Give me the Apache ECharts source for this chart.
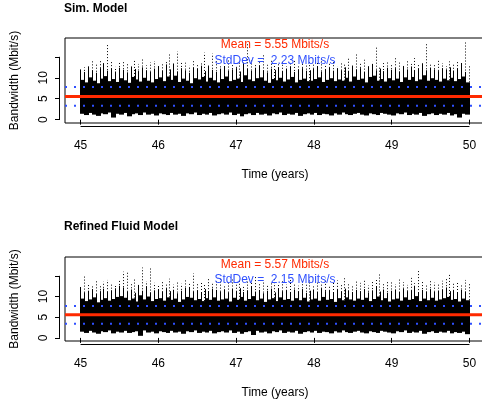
<!DOCTYPE html>
<html><head><meta charset="utf-8">
<script src="https://cdn.jsdelivr.net/npm/echarts@6.0.0/dist/echarts.min.js"></script>
<style>html,body{margin:0;padding:0;background:#fff}#c{width:482px;height:405px}</style>
</head><body><div id="c"></div>
<script>
// ---- data ----
const panelTitles = ['Sim. Model', 'Refined Fluid Model'];
const xTicks = [45, 46, 47, 48, 49, 50];
const yTicks = [0, 5, 10, 15];
const yTickLabels = [0, 5, 10];
const binStart = [45.00,45.05,45.10,45.15,45.20,45.25,45.30,45.35,45.40,45.45,
45.50,45.55,45.60,45.65,45.70,45.75,45.80,45.85,45.90,45.95,
46.00,46.05,46.10,46.15,46.20,46.25,46.30,46.35,46.40,46.45,
46.50,46.55,46.60,46.65,46.70,46.75,46.80,46.85,46.90,46.95,
47.00,47.05,47.10,47.15,47.20,47.25,47.30,47.35,47.40,47.45,
47.50,47.55,47.60,47.65,47.70,47.75,47.80,47.85,47.90,47.95,
48.00,48.05,48.10,48.15,48.20,48.25,48.30,48.35,48.40,48.45,
48.50,48.55,48.60,48.65,48.70,48.75,48.80,48.85,48.90,48.95,
49.00,49.05,49.10,49.15,49.20,49.25,49.30,49.35,49.40,49.45,
49.50,49.55,49.60,49.65,49.70,49.75,49.80,49.85,49.90,49.95];

// Sim. Model: per-bin lowest value, top of dense band, top of solid spikes, highest sparse point
const simLow = [1.4,1.1,1.6,1.2,0.9,1.5,1.3,1.7,0.5,1.4,
1.2,1.6,0.8,1.3,1.5,1.1,1.7,1.2,1.4,1.0,
1.5,1.3,1.1,1.6,1.2,1.4,0.9,1.5,1.3,1.7,
1.1,1.4,1.2,1.6,1.0,1.3,1.5,1.2,1.7,1.1,
1.4,0.8,1.3,1.5,1.1,1.6,1.2,1.4,1.0,1.5,
1.3,1.7,1.1,1.4,1.2,1.6,0.9,1.3,1.5,1.2,
1.6,1.1,1.4,1.3,1.0,1.5,1.2,1.7,1.3,1.1,
1.4,1.6,1.2,1.0,1.5,1.3,1.1,1.6,1.4,1.2,
1.0,1.5,1.3,1.7,1.1,1.4,1.2,1.6,0.9,1.3,
1.5,1.1,1.4,1.2,1.6,1.0,1.3,0.5,1.4,1.2];
const simTop = [9.5,8.9,10.1,9.3,8.7,9.8,10.4,9.2,9.7,9.0,
9.9,9.4,8.8,10.2,9.6,9.1,10.0,9.3,8.9,9.7,
10.1,9.2,10.3,9.5,10.5,9.0,9.8,9.3,8.7,9.9,
9.6,10.2,9.1,10.0,9.4,8.9,9.7,10.3,9.2,9.5,
9.8,9.0,10.6,9.6,9.2,9.9,10.1,9.3,8.8,9.7,
9.4,10.0,9.1,9.6,10.2,8.9,9.5,9.8,9.2,9.3,
9.7,10.1,9.0,9.5,9.9,9.2,9.6,9.3,10.0,9.1,
10.3,9.5,9.8,8.9,10.2,10.5,9.3,9.7,9.1,9.9,
9.4,9.8,9.0,10.1,9.5,10.2,9.2,9.6,10.6,9.3,
9.9,9.5,9.1,9.8,9.4,10.0,9.2,9.7,10.3,8.9];
const simSpike = [12.0,11.4,12.6,11.8,11.2,12.3,13.5,11.7,12.2,11.5,
12.4,11.9,11.3,12.7,12.1,11.6,12.5,11.8,11.4,12.2,
12.6,11.7,13.2,12.0,13.4,11.5,12.3,11.8,11.2,12.4,
12.1,12.9,11.6,12.8,11.9,11.4,12.2,12.8,11.7,12.0,
12.3,11.5,13.6,12.1,11.7,12.4,12.9,11.8,11.3,12.2,
11.9,12.5,11.6,12.1,12.7,11.4,12.0,12.3,11.7,11.8,
12.2,12.6,11.5,12.0,12.4,11.7,12.1,11.8,12.5,11.6,
12.8,12.0,12.3,11.4,12.7,13.3,11.8,12.2,11.6,12.4,
11.9,12.3,11.5,12.6,12.0,12.7,11.7,12.1,13.4,11.8,
12.4,12.0,11.6,12.3,11.9,12.5,11.7,12.2,13.5,11.4];
const simPeak = [12.5,13.2,14.0,13.5,14.3,13.0,17.9,13.8,12.6,13.9,
14.2,13.6,12.8,14.1,13.3,14.5,13.0,13.7,14.0,13.2,
13.5,14.2,15.9,13.4,16.3,14.0,13.6,12.9,14.2,13.4,
13.8,16.0,13.2,15.8,14.1,13.0,13.9,14.6,13.3,12.8,
14.0,13.6,18.3,14.2,13.4,13.7,15.5,13.1,14.5,12.9,
13.5,14.1,12.8,13.9,14.4,13.2,13.7,12.9,14.0,13.3,
13.8,14.6,13.0,13.5,14.2,12.8,13.9,13.4,14.8,13.1,
16.0,13.6,14.3,13.0,13.8,17.2,12.7,13.5,13.9,13.2,
14.8,14.0,12.9,14.2,13.3,14.7,13.1,13.8,18.0,13.4,
13.0,14.1,13.5,12.8,13.9,13.3,14.0,13.6,18.9,13.2];

// Refined Fluid Model
const fluidLow = [1.5,1.2,1.7,1.3,1.0,1.6,1.4,1.8,1.1,1.5,
1.3,1.7,1.2,1.4,1.6,0.5,1.8,1.3,1.5,1.1,
1.6,1.4,1.2,1.7,1.3,1.5,1.0,1.6,1.4,1.8,
1.2,1.5,1.3,1.7,1.1,1.4,1.6,1.3,1.8,1.2,
1.5,1.0,1.4,1.6,0.7,1.7,1.3,1.5,1.1,1.6,
1.4,1.8,1.2,1.5,1.3,1.7,1.0,1.4,1.6,1.3,
1.7,1.2,1.5,1.4,1.1,1.6,1.3,1.8,1.4,1.2,
1.5,1.7,1.3,1.1,1.6,1.4,1.2,1.7,1.5,1.3,
1.1,1.6,1.4,1.8,1.2,1.5,1.3,1.7,1.0,1.4,
1.6,1.2,1.5,1.3,1.7,1.1,1.4,1.2,1.5,0.9];
const fluidTop = [9.5,8.9,9.3,9.8,8.6,9.2,9.6,9.0,9.4,9.9,
10.1,9.7,9.1,9.5,8.8,10.3,9.3,10.0,8.9,9.4,
9.6,9.0,9.8,9.2,9.5,8.7,9.3,9.9,9.7,9.1,
9.4,8.9,9.6,9.2,9.8,9.0,9.3,9.5,8.8,9.7,
9.2,9.9,9.0,9.4,10.1,9.1,9.5,8.7,9.3,9.6,
8.9,9.8,9.2,9.4,9.0,9.6,9.1,9.7,8.8,9.3,
9.5,9.0,9.9,9.2,9.4,8.7,9.6,9.1,9.8,9.3,
9.0,9.5,9.2,9.7,8.9,9.4,10.0,9.1,9.6,8.8,
9.3,9.5,9.0,9.8,9.2,9.4,10.1,8.9,9.5,9.1,
9.7,9.0,9.3,9.6,9.9,9.2,9.4,8.8,9.5,9.1];
const fluidSpike = [12.3,11.0,11.4,11.8,10.6,11.3,11.9,11.1,11.5,12.0,
12.6,12.2,11.2,11.7,10.9,12.8,11.4,12.5,11.0,11.5,
11.8,11.1,12.0,11.3,11.6,10.8,11.4,12.1,12.3,11.2,
11.5,10.9,11.8,11.3,11.9,11.6,11.2,11.7,11.0,11.8,
11.3,12.0,11.1,11.5,12.3,11.2,11.6,10.8,11.4,11.9,
11.0,11.9,11.3,11.5,11.1,11.7,11.2,11.8,10.9,11.4,
11.6,11.1,12.0,11.3,11.5,10.9,11.7,11.2,11.9,11.4,
11.1,11.6,11.3,11.8,11.0,11.5,12.4,11.2,11.7,10.9,
11.4,11.6,11.1,11.9,11.3,11.5,12.6,11.0,11.6,11.2,
11.8,11.1,11.4,11.7,12.2,11.3,11.5,10.9,11.6,11.2];
const fluidPeak = [15.2,13.1,12.8,13.9,12.5,13.6,14.0,13.2,12.9,13.8,
16.0,15.8,13.4,14.1,13.0,17.0,13.7,16.8,13.3,12.8,
13.9,13.2,14.3,12.9,13.6,13.1,14.0,13.4,15.6,13.0,
13.5,12.8,14.2,13.3,13.7,14.4,12.9,13.6,14.1,13.2,
13.8,12.7,14.0,13.4,14.8,13.1,13.9,12.8,13.5,14.2,
13.0,13.7,12.9,14.1,13.3,12.6,13.8,13.2,14.0,12.9,
13.6,13.1,14.3,12.8,13.5,13.9,13.0,14.4,13.2,12.9,
13.8,13.3,14.0,12.7,13.6,14.2,15.7,13.1,13.9,13.4,
13.0,14.1,13.5,12.8,14.5,13.2,16.2,13.7,13.0,14.0,
13.4,12.9,13.8,14.3,15.7,13.1,13.6,12.8,14.0,13.3];

const means = [5.55, 5.57];
const stdDevs = [2.23, 2.15];
const simBands = [3.32, 7.78];
const fluidBands = [3.42, 7.72];

// ---- layout / style ----
const BIN = 0.05;
const RED = '#ff2a00', BLUE = '#2f50ff';
const FONT = 'Liberation Sans, Arial, Helvetica, sans-serif';
const X_MIN = 44.8, X_MAX = 50.2;
const yRanges = [[-0.8, 19.5], [-0.75, 19.55]];
const grids = [
  {left: 65, top: 38, width: 420, height: 85},
  {left: 65, top: 257, width: 420, height: 84}
];
const XOFF = 3, YOFF = 5;

const series = [];
const lows = [simLow, fluidLow], tops = [simTop, fluidTop], spikes = [simSpike, fluidSpike], peaks = [simPeak, fluidPeak];
const bands = [simBands, fluidBands];

for (let p = 0; p < 2; p++) {
  series.push({
    type: 'custom', xAxisIndex: p, yAxisIndex: p, z: 1, silent: true,
    data: binStart.map((t, i) => [t, lows[p][i], tops[p][i], spikes[p][i], peaks[p][i]]),
    encode: {x: 0, y: [1, 2, 3, 4]},
    renderItem: function (params, api) {
      const t = api.value(0), lo = api.value(1), tp = api.value(2), sp = api.value(3), pk = api.value(4);
      const a = api.coord([t, tp]);
      const b = api.coord([t + BIN, lo]);
      const s = api.coord([t, sp]);
      const c = api.coord([t, pk]);
      const x0 = Math.floor(a[0]), x1 = Math.ceil(b[0]);
      const w = x1 - x0;
      const xs = x0 + 0.5;
      const xd = x0 + Math.max(2, Math.round(w / 2) + 1) + 0.5;
      return {type: 'group', children: [
        {type: 'rect', shape: {x: x0, y: a[1], width: w, height: b[1] - a[1]},
         style: {fill: '#000'}},
        {type: 'line', shape: {x1: xs, y1: a[1] + 1, x2: xs, y2: s[1]},
         style: {stroke: '#000', lineWidth: 1}},
        {type: 'line', shape: {x1: xd, y1: a[1], x2: xd, y2: c[1]},
         style: {stroke: '#000', lineWidth: 1, lineDash: [1, 2]}}
      ]};
    }
  });
  bands[p].forEach(v => {
    series.push({type: 'line', xAxisIndex: p, yAxisIndex: p, z: 3, silent: true, symbol: 'none',
      data: [[X_MIN, v], [X_MAX, v]], clip: false,
      lineStyle: {color: BLUE, width: 2, type: [2, 7], cap: 'butt'}});
  });
  series.push({type: 'line', xAxisIndex: p, yAxisIndex: p, z: 4, silent: true, symbol: 'none',
    data: [[X_MIN, means[p]], [X_MAX, means[p]]], clip: false,
    lineStyle: {color: RED, width: 3}});
  // annotations
  const txtY = p === 0 ? [17.9, 14.0] : [17.7, 14.1];
  series.push({
    type: 'custom', xAxisIndex: p, yAxisIndex: p, z: 6, silent: true, clip: false,
    data: [[47.5, txtY[0], 0], [47.5, txtY[1], 1]],
    renderItem: function (params, api) {
      const k = api.value(2);
      const pt = api.coord([api.value(0), api.value(1)]);
      const txt = k === 0 ? 'Mean = ' + means[p].toFixed(2) + ' Mbits/s'
                          : 'StdDev =  ' + stdDevs[p].toFixed(2) + ' Mbits/s';
      return {type: 'text', x: pt[0], y: pt[1],
        style: {text: txt, fill: k === 0 ? RED : BLUE, font: '12px ' + FONT,
                textAlign: 'center', textVerticalAlign: 'middle'}};
    }
  });
  // R-style detached axis lines (first to last tick)
  series.push({
    type: 'custom', xAxisIndex: p, yAxisIndex: p, z: 5, silent: true, clip: false,
    data: [[47.5, 5]],
    renderItem: function (params, api) {
      const yr = yRanges[p];
      const l = api.coord([xTicks[0], yr[0]]), r = api.coord([xTicks[xTicks.length - 1], yr[0]]);
      const b0 = api.coord([X_MIN, yTicks[0]]), b1 = api.coord([X_MIN, yTicks[yTicks.length - 1]]);
      const yy = Math.round(l[1] + XOFF) + 0.5;
      const xx = Math.round(b0[0] - YOFF) - 0.5;
      return {type: 'group', children: [
        {type: 'line', shape: {x1: l[0], y1: yy, x2: r[0], y2: yy}, style: {stroke: '#000', lineWidth: 1}},
        {type: 'line', shape: {x1: xx, y1: b0[1], x2: xx, y2: b1[1]}, style: {stroke: '#000', lineWidth: 1}}
      ]};
    }
  });
}

const option = {
  animation: false,
  backgroundColor: '#fff',
  title: panelTitles.map((t, i) => ({text: t, left: 64, top: i === 0 ? 3 : 221, padding: 0,
    textStyle: {fontSize: 12, fontWeight: 'bold', color: '#000', fontFamily: FONT}})),
  grid: grids.map(g => Object.assign({show: true, borderColor: '#000', borderWidth: 1,
    backgroundColor: 'transparent', containLabel: false, outerBoundsMode: 'none'}, g)),
  xAxis: [0, 1].map(p => ({
    type: 'value', gridIndex: p, min: X_MIN, max: X_MAX, offset: XOFF,
    name: 'Time (years)', nameLocation: 'middle', nameGap: 43,
    nameTextStyle: {fontSize: 12, color: '#000', fontFamily: FONT},
    axisLine: {show: false}, splitLine: {show: false},
    axisTick: {show: true, length: 5, customValues: xTicks, lineStyle: {color: '#000'}},
    axisLabel: {show: true, customValues: xTicks, margin: 14, fontSize: 12, color: '#000', fontFamily: FONT}
  })),
  yAxis: [0, 1].map(p => ({
    type: 'value', gridIndex: p, min: yRanges[p][0], max: yRanges[p][1], offset: YOFF,
    name: 'Bandwidth (Mbit/s)', nameLocation: 'middle', nameGap: 39, nameRotate: 90,
    nameTextStyle: {fontSize: 12, color: '#000', fontFamily: FONT},
    axisLine: {show: false}, splitLine: {show: false},
    axisTick: {show: true, length: 5, customValues: yTicks, lineStyle: {color: '#000'}},
    axisLabel: {show: true, customValues: yTickLabels, rotate: 90, margin: 10, fontSize: 12, color: '#000', fontFamily: FONT}
  })),
  series: series
};
const chart = echarts.init(document.getElementById('c'), null, {renderer: 'canvas'});
chart.setOption(option);
</script></body></html>
